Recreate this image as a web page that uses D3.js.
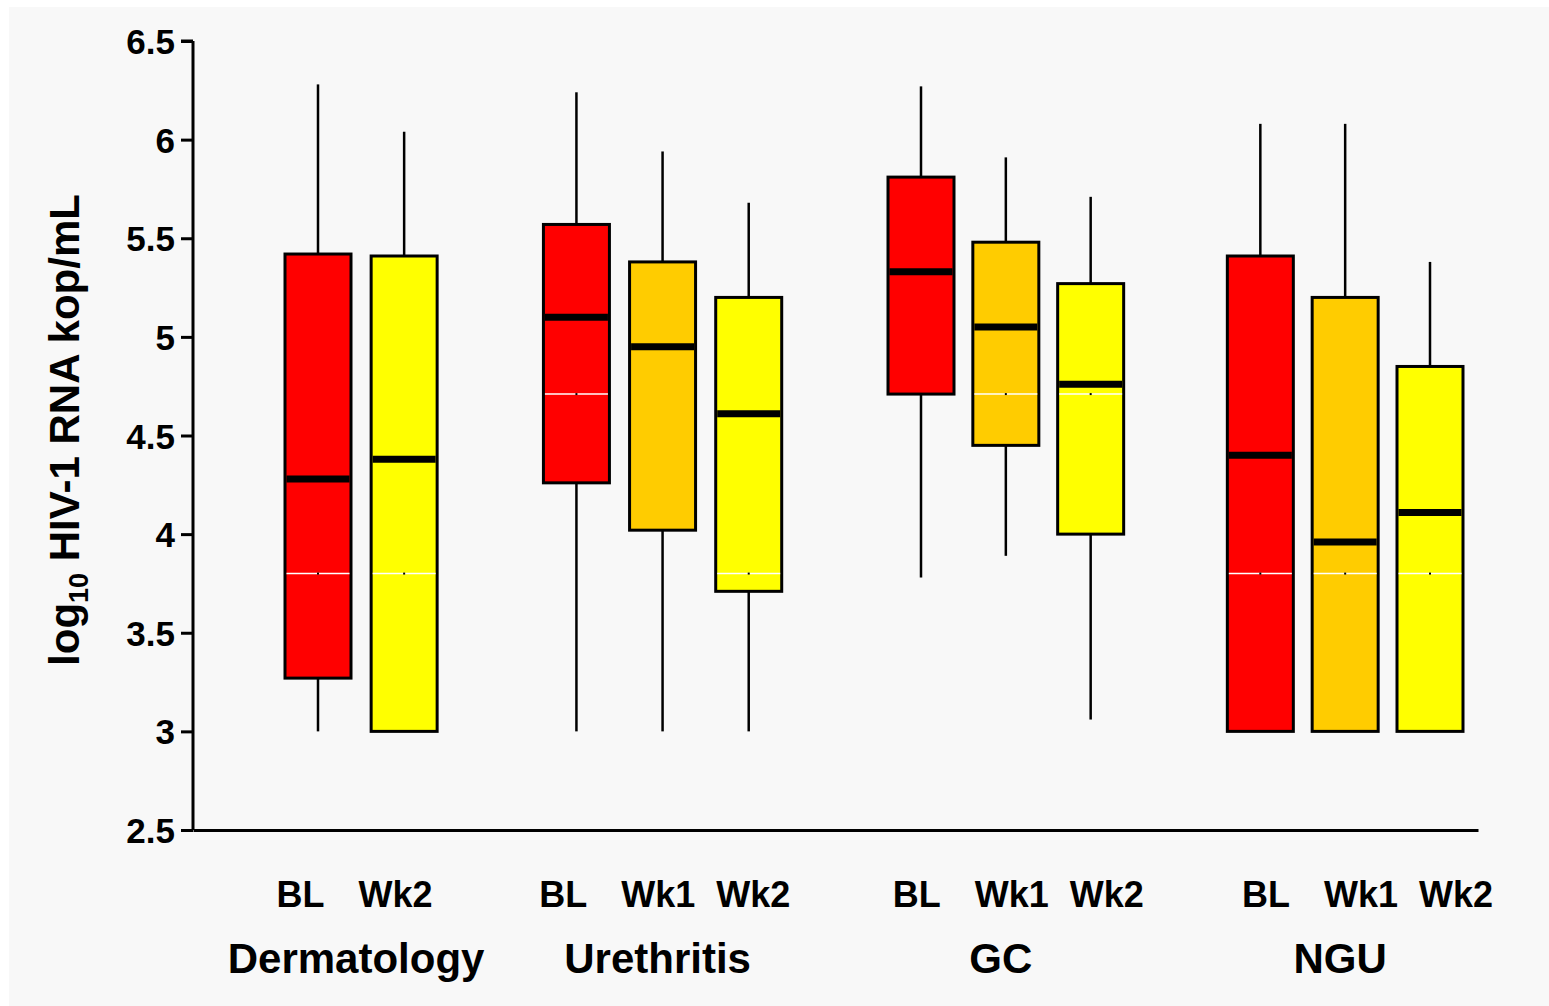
<!DOCTYPE html>
<html>
<head>
<meta charset="utf-8">
<script src="https://cdn.jsdelivr.net/npm/d3@7"></script>
<style>
  html, body { margin: 0; padding: 0; background: #ffffff; }
  svg { display: block; }
  text { font-family: "Liberation Sans", Arial, Helvetica, sans-serif; font-weight: bold; fill: #000; }
</style>
</head>
<body>
<script>
// ---------- DATA ----------
const groups      = ["Dermatology", "Urethritis", "GC", "NGU"];
const boxGroup    = [0, 0, 1, 1, 1, 2, 2, 2, 3, 3, 3];
const boxVisit    = ["BL", "Wk2", "BL", "Wk1", "Wk2", "BL", "Wk1", "Wk2", "BL", "Wk1", "Wk2"];
const whiskerLow  = [3.00, 3.00, 3.00, 3.00, 3.00, 3.78, 3.89, 3.06, 3.00, 3.00, 3.00];
const q1          = [3.27, 3.00, 4.26, 4.02, 3.71, 4.71, 4.45, 4.00, 3.00, 3.00, 3.00];
const medians     = [4.28, 4.38, 5.10, 4.95, 4.61, 5.33, 5.05, 4.76, 4.40, 3.96, 4.11];
const q3          = [5.42, 5.41, 5.57, 5.38, 5.20, 5.81, 5.48, 5.27, 5.41, 5.20, 4.85];
const whiskerHigh = [6.28, 6.04, 6.24, 5.94, 5.68, 6.27, 5.91, 5.71, 6.08, 6.08, 5.38];
const markLine    = [3.80, 3.80, 4.71, null, 3.80, null, 4.71, 4.71, 3.80, 3.80, 3.80];
const visitColors = { "BL": "#ff0000", "Wk1": "#ffcc00", "Wk2": "#ffff00" };
const yTicks      = [2.5, 3, 3.5, 4, 4.5, 5, 5.5, 6, 6.5];
const yTickLabels = ["2.5", "3", "3.5", "4", "4.5", "5", "5.5", "6", "6.5"];

// ---------- LAYOUT ----------
const W = 1549, H = 1006;
const svg = d3.select("body").append("svg").attr("width", W).attr("height", H);

svg.append("rect").attr("x", 9).attr("y", 7).attr("width", W - 9).attr("height", H - 7).attr("fill", "#f8f8f8");

const y = d3.scaleLinear().domain([2.5, 6.5]).range([830, 41]);

// slot index: groups separated by an empty slot
const slots = [];
{
  let s = 0, prev = boxGroup[0];
  boxGroup.forEach((g, i) => { if (g !== prev) { s += 1; prev = g; } slots.push(s); s += 1; });
}
const x = d3.scaleLinear().domain([0, 7, 13]).range([318, 921, 1430]);
const boxW = 66;

// axes
const yAxis = d3.axisLeft(y).tickValues(yTicks).tickFormat((d, i) => yTickLabels[i]).tickSize(12).tickPadding(6);
const gy = svg.append("g").attr("transform", "translate(193,0)").call(yAxis);
gy.select(".domain").attr("stroke", "#000").attr("stroke-width", 3).attr("d", `M0,${y(6.5)}H-12M0,${y(6.5)}V${y(2.5)}`);
gy.selectAll(".tick line").attr("stroke", "#000").attr("stroke-width", 3);
gy.selectAll(".tick text").attr("font-size", 35).attr("font-weight", "bold")
  .attr("font-family", '"Liberation Sans", Arial, sans-serif').attr("fill", "#000").attr("dy", "0.36em");

const xAxisLine = d3.axisBottom(d3.scaleLinear().domain([0, 1]).range([193, 1478])).tickValues([]).tickSizeOuter(0);
const gx = svg.append("g").attr("transform", `translate(0,${y(2.5)})`).call(xAxisLine);
gx.select(".domain").attr("stroke", "#000").attr("stroke-width", 3);

// boxes
const data = boxVisit.map((v, i) => ({
  visit: v, group: boxGroup[i], slot: slots[i],
  lo: whiskerLow[i], q1: q1[i], med: medians[i], q3: q3[i], hi: whiskerHigh[i], mark: markLine[i]
}));

const bx = svg.append("g");
const box = bx.selectAll("g.box").data(data).join("g").attr("class", "box");

// whiskers
box.append("line")
  .attr("x1", d => x(d.slot)).attr("x2", d => x(d.slot))
  .attr("y1", d => y(d.q3)).attr("y2", d => y(d.hi))
  .attr("stroke", "#000").attr("stroke-width", 2.5);
box.filter(d => d.lo < d.q1).append("line")
  .attr("x1", d => x(d.slot)).attr("x2", d => x(d.slot))
  .attr("y1", d => y(d.q1)).attr("y2", d => y(d.lo))
  .attr("stroke", "#000").attr("stroke-width", 2.5);

// box body
box.append("rect")
  .attr("x", d => x(d.slot) - boxW / 2).attr("width", boxW)
  .attr("y", d => y(d.q3)).attr("height", d => y(d.q1) - y(d.q3))
  .attr("fill", d => visitColors[d.visit]).attr("stroke", "#000").attr("stroke-width", 3);

// white marker line with centre dot
const mk = box.filter(d => d.mark !== null);
mk.append("line")
  .attr("x1", d => x(d.slot) - boxW / 2 + 1.5).attr("x2", d => x(d.slot) + boxW / 2 - 1.5)
  .attr("y1", d => y(d.mark)).attr("y2", d => y(d.mark))
  .attr("stroke", "#ffffff").attr("stroke-width", 1.5);
mk.append("rect")
  .attr("x", d => x(d.slot) - 1).attr("y", d => y(d.mark) - 1)
  .attr("width", 2).attr("height", 2).attr("fill", "#000");

// median
box.append("line")
  .attr("x1", d => x(d.slot) - boxW / 2 + 1.5).attr("x2", d => x(d.slot) + boxW / 2 - 1.5)
  .attr("y1", d => y(d.med)).attr("y2", d => y(d.med))
  .attr("stroke", "#000").attr("stroke-width", 7);

// visit labels: spaced evenly around each group's label centre
const groupCentre = gi => x(d3.mean(data.filter(d => d.group === gi), d => d.slot));
const labelCentre = d3.scaleLinear().domain([groupCentre(0), groupCentre(3)]).range([348, 1361]);
const labelStep = 95;
svg.append("g").selectAll("text").data(data).join("text")
  .attr("x", d => {
    const members = data.filter(e => e.group === d.group);
    const idx = members.indexOf(d);
    return labelCentre(groupCentre(d.group)) + (idx - (members.length - 1) / 2) * labelStep;
  })
  .attr("y", 907)
  .attr("text-anchor", "middle").attr("font-size", 36)
  .text(d => d.visit);

// group labels
svg.append("g").selectAll("text").data(groups).join("text")
  .attr("x", (g, gi) => groupCentre(gi) - 5)
  .attr("y", 973).attr("text-anchor", "middle").attr("font-size", 42)
  .text(g => g);

// y title
const t = svg.append("text").attr("transform", "translate(79,430) rotate(-90)")
  .attr("text-anchor", "middle").attr("font-size", 42);
t.append("tspan").text("log");
t.append("tspan").attr("font-size", 27).attr("dy", 9).text("10");
t.append("tspan").attr("dy", -9).text(" HIV-1 RNA kop/mL");
</script>
</body>
</html>
